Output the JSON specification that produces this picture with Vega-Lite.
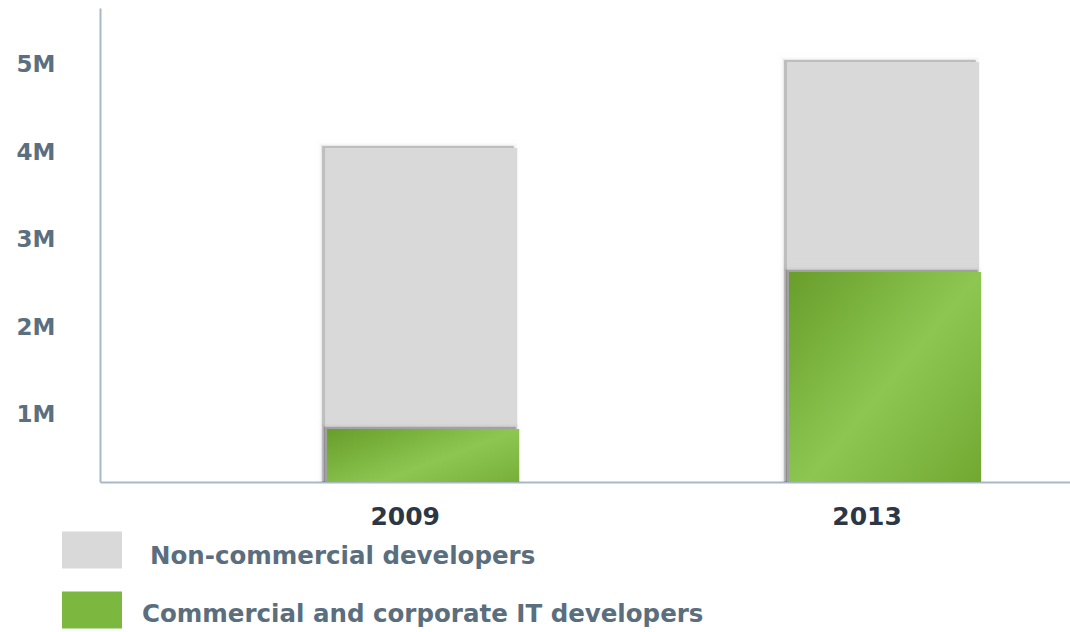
{
  "$schema": "https://vega.github.io/schema/vega-lite/v6.json",
  "width": 970,
  "height": 474,
  "autosize": {"type": "none"},
  "padding": {"left": 100, "top": 8, "right": 0, "bottom": 150},
  "background": "#ffffff",
  "config": {
    "view": {"stroke": null},
    "font": "DejaVu Sans"
  },
  "data": {
    "values": [
      {"year": "2009", "series": "Non-commercial developers", "value": 4050000},
      {"year": "2013", "series": "Non-commercial developers", "value": 5034000},
      {"year": "2009", "series": "Commercial and corporate IT developers", "value": 840000},
      {"year": "2013", "series": "Commercial and corporate IT developers", "value": 2634000}
    ]
  },
  "encoding": {
    "x": {
      "field": "year",
      "type": "nominal",
      "scale": {"paddingInner": 0.584, "paddingOuter": 0.342, "align": 0.7125},
      "axis": {
        "title": null,
        "labelAngle": 0,
        "ticks": false,
        "domainColor": "#a9b8c8",
        "domainWidth": 2,
        "labelFont": "DejaVu Sans",
        "labelFontSize": 25,
        "labelFontWeight": "bold",
        "labelColor": "#2b3745",
        "labelPadding": 22,
        "labelOffset": -16,
        "grid": false,
        "encode": {
          "labels": {
            "update": {
              "dy": [{"test": "datum.value === '2013'", "value": 4}, {"value": 0}],
              "dx": [{"test": "datum.value === '2009'", "value": -3}, {"value": 2}]
            }
          }
        }
      }
    },
    "y": {
      "field": "value",
      "type": "quantitative",
      "scale": {"domain": [234000, 5651000], "zero": false, "nice": false},
      "axis": {
        "title": null,
        "values": [1000000, 2000000, 3000000, 4000000, 5000000],
        "labelExpr": "datum.value / 1000000 + 'M'",
        "ticks": false,
        "grid": false,
        "domainColor": "#a9b8c8",
        "domainWidth": 2,
        "labelFont": "DejaVu Sans",
        "labelFontSize": 23,
        "labelFontWeight": "bold",
        "labelColor": "#5b6f80",
        "labelPadding": 45
      }
    }
  },
  "layer": [
    {
      "transform": [{"filter": "datum.series === 'Non-commercial developers'"}],
      "mark": {"type": "bar", "clip": true, "color": "#000000", "opacity": 0.06, "stroke": "#000000", "strokeOpacity": 0.06, "strokeWidth": 12, "xOffset": -4, "yOffset": -3}
    },
    {
      "transform": [{"filter": "datum.series === 'Non-commercial developers'"}],
      "mark": {"type": "bar", "clip": true, "color": "#000000", "opacity": 0.2, "stroke": "#000000", "strokeOpacity": 0.12, "strokeWidth": 5, "xOffset": -3, "yOffset": -2}
    },
    {
      "transform": [{"filter": "datum.series === 'Non-commercial developers'"}],
      "mark": {"type": "bar", "clip": true},
      "encoding": {
        "color": {
          "field": "series",
          "type": "nominal",
          "scale": {
            "domain": ["Non-commercial developers", "Commercial and corporate IT developers"],
            "range": ["#d9d9d9", "#7cb83f"]
          },
          "legend": {
            "title": null,
            "orient": "none",
            "legendX": -38,
            "legendY": 512,
            "padding": 0,
            "rowPadding": 11,
            "symbolType": "M-1,-0.62H1V0.62H-1Z",
            "symbolSize": 3600,
            "symbolStrokeWidth": 0,
            "symbolOpacity": 1,
            "labelFont": "DejaVu Sans",
            "labelFontSize": 24.5,
            "labelFontWeight": "bold",
            "labelColor": "#5a6e7e",
            "labelOffset": 26,
            "labelLimit": 900,
            "encode": {
              "labels": {
                "update": {
                  "dy": [
                    {"test": "datum.value === 'Commercial and corporate IT developers'", "value": 5},
                    {"value": 7}
                  ],
                  "dx": [
                    {"test": "datum.value === 'Commercial and corporate IT developers'", "value": -6},
                    {"value": 2}
                  ]
                }
              },
              "symbols": {
                "update": {
                  "stroke": {"value": "transparent"}
                }
              }
            }
          }
        }
      }
    },
    {
      "transform": [{"filter": "datum.series === 'Commercial and corporate IT developers'"}],
      "mark": {"type": "bar", "clip": true, "color": "#000000", "opacity": 0.06, "stroke": "#000000", "strokeOpacity": 0.06, "strokeWidth": 12, "xOffset": -2, "yOffset": -3}
    },
    {
      "transform": [{"filter": "datum.series === 'Commercial and corporate IT developers'"}],
      "mark": {"type": "bar", "clip": true, "color": "#000000", "opacity": 0.2, "stroke": "#000000", "strokeOpacity": 0.12, "strokeWidth": 5, "xOffset": -1, "yOffset": -2}
    },
    {
      "transform": [{"filter": "datum.series === 'Commercial and corporate IT developers'"}],
      "mark": {
        "type": "bar",
        "clip": true,
        "xOffset": 2,
        "color": {"gradient": "linear", "x1": 0, "y1": 0, "x2": 1, "y2": 1, "stops": [{"offset": 0, "color": "#689d2a"}, {"offset": 0.5, "color": "#8dc752"}, {"offset": 1, "color": "#6ea52f"}]}
      }
    }
  ]
}
